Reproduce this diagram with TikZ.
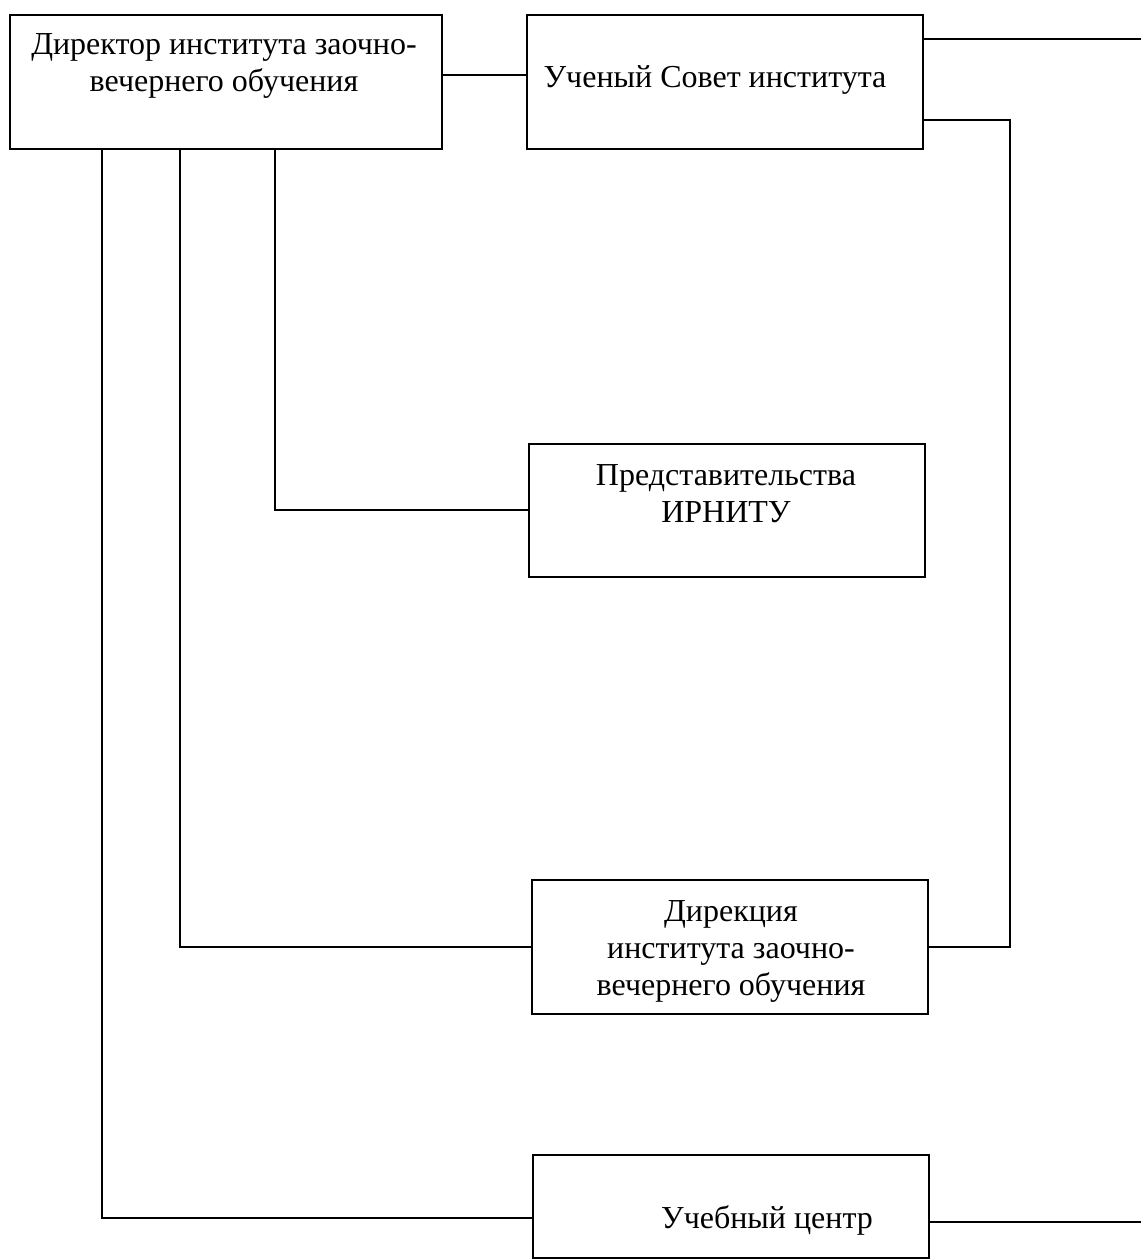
\documentclass[tikz,border=0pt]{standalone}
\usepackage{fontspec}
\setmainfont{Liberation Serif}
\begin{document}
\begin{tikzpicture}[x=1pt,y=-1pt,
  box/.style={draw, line width=1.6pt, inner sep=0pt, anchor=north west},
  lbl/.style={align=center, font=\fontsize{32}{37}\selectfont, inner sep=0pt},
  conn/.style={line width=1.8pt}]
\useasboundingbox[fill=white] (0,0) rectangle (1141,1259);
% boxes
\node[box, minimum width=432pt, minimum height=134pt] (D) at (9,14) {};
\node[box, minimum width=396pt, minimum height=134pt] (S) at (526,14) {};
\node[box, minimum width=396pt, minimum height=133pt] (P) at (528,443) {};
\node[box, minimum width=396pt, minimum height=134pt] (R) at (531,879) {};
\node[box, minimum width=396pt, minimum height=103pt] (U) at (532,1154) {};
% texts
\node[lbl] (Dt) at (224,66) {Директор института заочно-\\вечернего обучения};
\node[lbl] (St) at (715,80) {Ученый Совет института};
\node[lbl] (Pt) at (726,494) {Представительства\\ИРНИТУ};
\node[lbl] (Rt) at (731,951) {Дирекция\\института заочно-\\вечернего обучения};
\node[lbl] (Ut) at (767,1220) {Учебный центр};
% helper coordinates
\coordinate (y75) at (0,75);
\coordinate (E1) at (1141,39);
\coordinate (E2) at (1141,1222);
\coordinate (K1) at (1010,120);
\coordinate (v1) at (102,0);
\coordinate (v2) at (180,0);
\coordinate (v3) at (275,0);
\coordinate (y1218) at (0,1218);
% connectors
\draw[conn] (D.east |- y75) -- (S.west |- y75);
\draw[conn] (S.east |- E1) -- (E1);
\draw[conn] (S.east |- K1) -- (K1) |- (R.east);
\draw[conn] (D.south -| v3) |- (P.west);
\draw[conn] (D.south -| v2) |- (R.west);
\draw[conn] (D.south -| v1) -- (v1 |- y1218) -- (U.west |- y1218);
\draw[conn] (U.east |- E2) -- (E2);
\end{tikzpicture}
\end{document}
